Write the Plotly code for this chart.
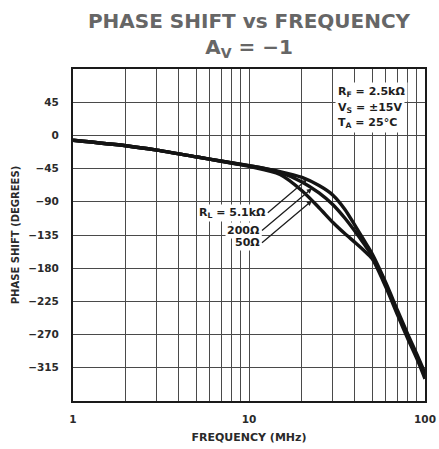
import numpy as np
import plotly.graph_objects as go

# ---- data ----
freq_mhz = [1, 2, 3, 5, 7, 10, 15, 20, 25, 30, 35, 40, 45, 50, 60, 70, 80, 90, 100]
phase_rl_5k1 = [-6.5, -14, -20, -29, -35, -41, -49, -57, -68, -81, -100, -122, -142, -160, -200, -238, -270, -297, -322]
phase_rl_200 = [-6.5, -14, -20, -29, -35, -41, -50, -63, -78, -94, -112, -130, -147, -163, -203, -241, -273, -300, -326]
phase_rl_50 = [-6.5, -14, -20, -29, -35, -42, -53, -75, -98, -118, -133, -145, -156, -167, -206, -244, -276, -303, -330]

series_names = ["R<sub>L</sub> = 5.1kΩ", "200Ω", "50Ω"]
arrow_freqs = [21.3, 22.8, 22.8]

y_tick_vals = [45, 0, -45, -90, -135, -180, -225, -270, -315]
y_tick_text = ["45", "0", "−45", "−90", "−135", "−180", "−225", "−270", "−315"]
x_grid_vals = [1, 2, 3, 4, 5, 6, 7, 8, 9, 10, 20, 30, 40, 50, 60, 70, 80, 90, 100]
x_tick_text = ["1", "", "", "", "", "", "", "", "", "10", "", "", "", "", "", "", "", "", "100"]

conditions = ["R<sub>F</sub> = 2.5kΩ", "V<sub>S</sub> = ±15V", "T<sub>A</sub> = 25°C"]

FONT = "DejaVu Sans"
W, H = 439, 449
ML, MR, MT, MB = 73, 14, 69, 48

fig = go.Figure()
all_series = [phase_rl_5k1, phase_rl_200, phase_rl_50]
for name, ph in zip(series_names, all_series):
    fig.add_trace(go.Scatter(
        x=freq_mhz, y=ph, mode="lines", name=name,
        line=dict(color="#141414", width=3.4, shape="spline", smoothing=0.8),
        showlegend=False, hoverinfo="skip"))

axis_font = dict(family=FONT, size=10.5, color="#2a2a2a", weight="bold")

fig.update_xaxes(
    type="log", range=[0, 2],
    tickvals=x_grid_vals, ticktext=x_tick_text,
    showgrid=True, gridcolor="#4a4a4a", gridwidth=1,
    showline=True, linecolor="#1a1a1a", linewidth=2, mirror=True,
    ticks="", ticklabelstandoff=7, tickfont=axis_font,
    zeroline=False,
    title=dict(text="FREQUENCY (MHz)", font=dict(family=FONT, size=11, color="#2a2a2a", weight="bold"), standoff=10),
)
fig.update_yaxes(
    range=[-360, 90],
    tickvals=y_tick_vals, ticktext=y_tick_text,
    showgrid=True, gridcolor="#4a4a4a", gridwidth=1,
    showline=True, linecolor="#1a1a1a", linewidth=2, mirror=True,
    ticks="", ticklabelstandoff=10, tickfont=axis_font,
    zeroline=False,
    title=dict(text="PHASE SHIFT (DEGREES)", font=dict(family=FONT, size=10, color="#2a2a2a", weight="bold"), standoff=7),
)

annotations = []
# operating conditions block
cond_y = [92, 108, 123]
for txt, yp in zip(conditions, cond_y):
    annotations.append(dict(
        text=txt, xref="paper", yref="paper",
        x=(335 - ML) / (W - ML - MR), y=(H - MB - yp) / (H - MT - MB),
        xanchor="left", yanchor="middle", showarrow=False,
        bgcolor="white", borderpad=2,
        font=dict(family=FONT, size=11, color="#1e1e1e", weight="bold")))

# curve labels with leader arrows
label_offsets = [(-39, 33), (-50, 42), (-50, 42)]
for name, ph, f0, (ax, ay) in zip(series_names, all_series, arrow_freqs, label_offsets):
    y0 = float(np.interp(np.log10(f0), np.log10(freq_mhz), ph))
    annotations.append(dict(
        text=name, x=np.log10(f0), y=y0, xref="x", yref="y",
        showarrow=True, arrowhead=2, arrowsize=0.8, arrowwidth=1.3, arrowcolor="#1e1e1e",
        ax=ax, ay=ay, xanchor="right", bgcolor="white", borderpad=1,
        font=dict(family=FONT, size=11, color="#1e1e1e", weight="bold")))

fig.update_layout(
    width=W, height=H,
    margin=dict(l=ML, r=MR, t=MT, b=MB, autoexpand=False),
    paper_bgcolor="white", plot_bgcolor="white",
    title=dict(
        text="PHASE SHIFT vs FREQUENCY<br>A<sub>V</sub> = −1",
        x=(ML + (W - ML - MR) / 2) / W, xanchor="center", xref="container",
        y=1 - 28 / H, yanchor="top", yref="container",
        font=dict(family=FONT, size=20, color="#666666", weight="bold")),
    annotations=annotations,
)

fig.write_html("out.html", config={"displayModeBar": False},
               post_script="document.body.style.margin='0';document.body.style.padding='0';")
